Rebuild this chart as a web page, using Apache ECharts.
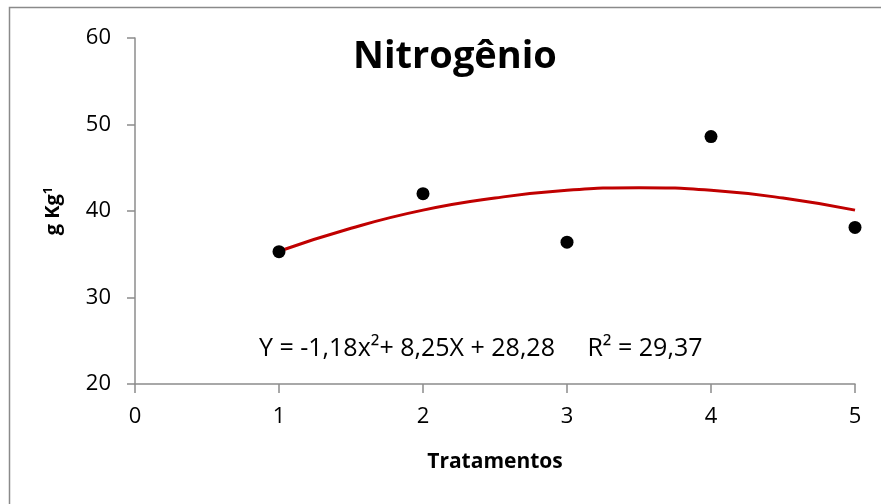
<!DOCTYPE html>
<html><head><meta charset="utf-8">
<script src="https://cdn.jsdelivr.net/npm/echarts@6/dist/echarts.min.js"></script>
<style>html,body{margin:0;padding:0;background:#fff}#c{width:881px;height:504px}</style>
</head><body><div id="c"></div>
<script>
const pointX = [1, 2, 3, 4, 5];
const pointY = [35.3, 42.0, 36.4, 48.6, 38.1];
const trendX = [1, 1.5, 2, 2.5, 3, 3.5, 4, 4.5, 5];
const trendY = [35.35, 38.0, 40.1, 41.5, 42.4, 42.7, 42.4, 41.5, 40.1];
const titleText = 'Nitrogênio';
const xTitle = 'Tratamentos';
const equationText = 'Y = -1,18x²+ 8,25X + 28,28     R² = 29,37';

const font = '"Open Sans", "Noto Sans", sans-serif';
const chart = echarts.init(document.getElementById('c'));
chart.setOption({
  animation: false,
  backgroundColor: '#fff',
  grid: { left: 135, right: 26, top: 38, bottom: 120 },
  title: {
    text: titleText, left: 450, top: 33, textAlign: 'center',
    textStyle: { fontFamily: font, fontSize: 38, fontWeight: 'bold', color: '#000' }
  },
  xAxis: {
    type: 'value', min: 0, max: 5, interval: 1,
    name: xTitle, nameLocation: 'middle', nameGap: 68,
    nameTextStyle: { fontFamily: font, fontSize: 21, fontWeight: 'bold', color: '#000' },
    axisLine: { lineStyle: { color: '#8c8c8c', width: 1.5 } },
    axisTick: { show: true, length: 9, lineStyle: { color: '#8c8c8c', width: 1.5 } },
    axisLabel: { fontFamily: font, fontSize: 22, color: '#000', margin: 22 },
    splitLine: { show: false }
  },
  yAxis: {
    type: 'value', min: 20, max: 60, interval: 10,
    name: '{b|g Kg}{s|1}', nameLocation: 'middle', nameGap: 70, nameRotate: 90,
    nameTextStyle: {
      rich: {
        b: { fontFamily: font, fontSize: 20, fontWeight: 'bold', color: '#000' },
        s: { fontFamily: font, fontSize: 13, fontWeight: 'bold', color: '#000', verticalAlign: 'top', padding: [0, 0, 10, 0] }
      }
    },
    axisLine: { show: true, lineStyle: { color: '#8c8c8c', width: 1.5 } },
    axisTick: { show: true, length: 8, lineStyle: { color: '#8c8c8c', width: 1.5 } },
    axisLabel: { fontFamily: font, fontSize: 22, color: '#000', margin: 24 },
    splitLine: { show: false }
  },
  series: [
    {
      type: 'line', smooth: true, symbol: 'none',
      data: trendX.map((x, i) => [x, trendY[i]]),
      lineStyle: { color: '#c00000', width: 3 }, z: 2
    },
    {
      type: 'scatter', symbol: 'circle', symbolSize: 13,
      data: pointX.map((x, i) => [x, pointY[i]]),
      itemStyle: { color: '#000', opacity: 1 }, z: 3
    }
  ],
  graphic: [
    { type: 'rect', shape: { x: 9.5, y: 7.5, width: 900, height: 520 },
      style: { fill: null, stroke: '#8a8a8a', lineWidth: 1.5 }, silent: true },
    { type: 'text', left: 259, top: 336,
      style: { text: equationText, font: '25px ' + font, fill: '#000' } }
  ]
});
</script></body></html>
